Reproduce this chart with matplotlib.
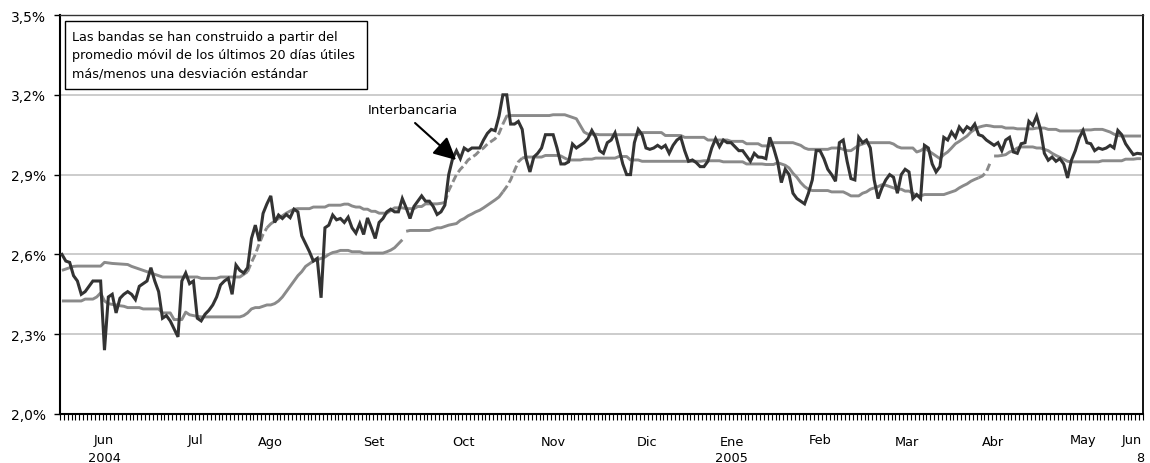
import numpy as np
import matplotlib
matplotlib.use("Agg")
import matplotlib.pyplot as plt
from matplotlib.patches import Rectangle
from matplotlib.patches import ArrowStyle

# ---------------- data (one value per business day) ----------------
interbancaria = [
    2.60, 2.575, 2.57, 2.52, 2.50, 2.45, 2.46, 2.48, 2.50, 2.50,
    2.50, 2.24, 2.44, 2.45, 2.38, 2.435, 2.45, 2.46, 2.45, 2.43,
    2.48, 2.49, 2.50, 2.55, 2.50, 2.46, 2.36, 2.37, 2.35, 2.32,
    2.29, 2.50, 2.53, 2.49, 2.50, 2.36, 2.35, 2.375, 2.39, 2.41,
    2.44, 2.485, 2.50, 2.51, 2.45, 2.56, 2.54, 2.53, 2.55, 2.66,
    2.71, 2.65, 2.754, 2.79, 2.82, 2.72, 2.748, 2.735, 2.75, 2.738,
    2.77, 2.76, 2.67, 2.64, 2.61, 2.575, 2.585, 2.437, 2.70, 2.71,
    2.748, 2.73, 2.735, 2.72, 2.74, 2.70, 2.68, 2.716, 2.675, 2.737,
    2.70, 2.66, 2.72, 2.735, 2.76, 2.77, 2.76, 2.76, 2.81, 2.775,
    2.735, 2.78, 2.80, 2.82, 2.80, 2.80, 2.78, 2.75, 2.76, 2.785,
    2.90, 2.96, 2.99, 2.96, 3.00, 2.99, 3.00, 3.00, 3.00, 3.03,
    3.055, 3.07, 3.065, 3.12, 3.20, 3.20, 3.09, 3.09, 3.10, 3.07,
    2.96, 2.91, 2.966, 2.98, 3.00, 3.05, 3.05, 3.05, 3.00, 2.94,
    2.94, 2.948, 3.015, 3.00, 3.01, 3.02, 3.035, 3.066, 3.04, 2.99,
    2.98, 3.02, 3.03, 3.057, 3.00, 2.94, 2.90, 2.90, 3.02, 3.07,
    3.05, 3.00, 2.995, 3.00, 3.01, 3.00, 3.01, 2.98, 3.01, 3.03,
    3.04, 2.99, 2.95, 2.955, 2.945, 2.93, 2.93, 2.95, 3.00, 3.035,
    3.005, 3.03, 3.02, 3.02, 3.005, 2.99, 2.99, 2.97, 2.95, 2.98,
    2.966, 2.965, 2.96, 3.04, 3.00, 2.95, 2.87, 2.92, 2.90, 2.83,
    2.81, 2.80, 2.79, 2.83, 2.88, 2.99, 2.99, 2.96, 2.92, 2.90,
    2.875, 3.02, 3.03, 2.95, 2.885, 2.88, 3.04, 3.02, 3.03, 3.00,
    2.88, 2.81, 2.85, 2.88, 2.90, 2.89, 2.83, 2.90, 2.92, 2.91,
    2.81, 2.825, 2.81, 3.01, 3.00, 2.94, 2.91, 2.93, 3.04, 3.03,
    3.06, 3.04, 3.079, 3.06, 3.08, 3.07, 3.09, 3.05, 3.045, 3.03,
    3.02, 3.01, 3.02, 2.99, 3.03, 3.04, 2.985, 2.98, 3.016, 3.02,
    3.10, 3.085, 3.12, 3.07, 2.98, 2.954, 2.966, 2.95, 2.96, 2.94,
    2.8875, 2.954, 2.99, 3.0375, 3.066, 3.02, 3.016, 2.99, 3.00, 2.995,
    3.00, 3.01, 3.00, 3.066, 3.05, 3.016, 2.995, 2.975, 2.98, 2.978,
]

banda_superior = [
    2.54, 2.545, 2.55, 2.555, 2.556, 2.556, 2.556, 2.556, 2.556, 2.556,
    2.556, 2.57, 2.568, 2.566, 2.565, 2.564, 2.563, 2.562, 2.555, 2.55,
    2.545, 2.54, 2.535, 2.53, 2.525, 2.52, 2.515, 2.515, 2.515, 2.515,
    2.515, 2.515, 2.515, 2.515, 2.515, 2.515, 2.51, 2.51, 2.51, 2.51,
    2.51, 2.515, 2.515, 2.515, 2.515, 2.515, 2.515, 2.525, 2.535, 2.57,
    2.60, 2.64, 2.675, 2.70, 2.715, 2.725, 2.735, 2.745, 2.755, 2.763,
    2.77, 2.772, 2.772, 2.772, 2.772, 2.778, 2.778, 2.778, 2.778, 2.785,
    2.785, 2.785, 2.785, 2.789, 2.789, 2.782, 2.778, 2.778, 2.77, 2.77,
    2.762, 2.762, 2.755, 2.755, 2.755, 2.765, 2.775, 2.775, 2.775, 2.772,
    2.772, 2.772, 2.78, 2.78, 2.79, 2.79, 2.79, 2.79, 2.792, 2.795,
    2.84, 2.87, 2.90, 2.92, 2.935, 2.955, 2.965, 2.975, 2.99, 3.00,
    3.015, 3.025, 3.035, 3.055, 3.09, 3.12, 3.122, 3.122, 3.122, 3.122,
    3.122, 3.122, 3.122, 3.122, 3.122, 3.122, 3.122, 3.125, 3.125, 3.125,
    3.125, 3.12, 3.115, 3.11, 3.085, 3.06, 3.052, 3.052, 3.052, 3.05,
    3.05, 3.05, 3.05, 3.05, 3.05, 3.05, 3.05, 3.05, 3.05, 3.05,
    3.058, 3.058, 3.058, 3.058, 3.058, 3.058, 3.047, 3.047, 3.047, 3.047,
    3.047, 3.04, 3.04, 3.04, 3.04, 3.04, 3.04, 3.03, 3.03, 3.03,
    3.03, 3.03, 3.03, 3.025, 3.025, 3.025, 3.025, 3.016, 3.016, 3.016,
    3.016, 3.008, 3.008, 3.008, 3.02, 3.02, 3.02, 3.02, 3.02, 3.02,
    3.015, 3.01, 3.00, 2.995, 2.995, 2.995, 2.995, 2.995, 2.995, 3.00,
    3.00, 3.00, 2.995, 2.99, 2.99, 3.00, 3.01, 3.015, 3.02, 3.02,
    3.02, 3.02, 3.02, 3.02, 3.02, 3.015, 3.005, 3.00, 3.00, 3.00,
    3.00, 2.985, 2.99, 3.00, 2.99, 2.98, 2.97, 2.96, 2.975, 2.985,
    3.00, 3.016, 3.025, 3.035, 3.045, 3.06, 3.07, 3.078, 3.082, 3.085,
    3.083, 3.08, 3.08, 3.08, 3.075, 3.075, 3.075, 3.072, 3.072, 3.072,
    3.072, 3.072, 3.075, 3.075, 3.075, 3.07, 3.07, 3.07, 3.064, 3.064,
    3.064, 3.064, 3.064, 3.064, 3.068, 3.068, 3.068, 3.07, 3.07, 3.07,
    3.065, 3.06, 3.052, 3.047, 3.045, 3.045, 3.045, 3.045, 3.045, 3.045,
]

banda_inferior = [
    2.425, 2.425, 2.425, 2.425, 2.425, 2.425, 2.432, 2.432, 2.432, 2.44,
    2.455, 2.425, 2.415, 2.412, 2.41, 2.407, 2.405, 2.40, 2.40, 2.40,
    2.40, 2.395, 2.395, 2.395, 2.395, 2.395, 2.38, 2.38, 2.38, 2.355,
    2.355, 2.355, 2.383, 2.373, 2.37, 2.367, 2.365, 2.365, 2.365, 2.365,
    2.365, 2.365, 2.365, 2.365, 2.365, 2.365, 2.365, 2.37, 2.38, 2.395,
    2.40, 2.40, 2.405, 2.41, 2.41, 2.415, 2.425, 2.44, 2.46, 2.48,
    2.50, 2.52, 2.535, 2.555, 2.565, 2.575, 2.58, 2.585, 2.59, 2.60,
    2.607, 2.61, 2.615, 2.615, 2.615, 2.61, 2.61, 2.61, 2.605, 2.605,
    2.605, 2.605, 2.605, 2.605, 2.61, 2.616, 2.625, 2.64, 2.655, 2.687,
    2.69, 2.69, 2.69, 2.69, 2.69, 2.69, 2.695, 2.70, 2.70, 2.705,
    2.71, 2.713, 2.716, 2.728, 2.735, 2.745, 2.752, 2.76, 2.766, 2.775,
    2.785, 2.795, 2.805, 2.816, 2.835, 2.855, 2.88, 2.915, 2.948, 2.962,
    2.966, 2.966, 2.966, 2.966, 2.966, 2.972, 2.972, 2.972, 2.972, 2.97,
    2.962, 2.955, 2.955, 2.955, 2.955, 2.958, 2.958, 2.958, 2.962, 2.962,
    2.962, 2.962, 2.962, 2.962, 2.968, 2.968, 2.968, 2.955, 2.955, 2.955,
    2.95, 2.95, 2.95, 2.95, 2.95, 2.95, 2.95, 2.95, 2.95, 2.95,
    2.95, 2.95, 2.95, 2.95, 2.95, 2.95, 2.952, 2.952, 2.952, 2.952,
    2.952, 2.948, 2.948, 2.948, 2.948, 2.948, 2.948, 2.94, 2.94, 2.94,
    2.94, 2.94, 2.938, 2.938, 2.938, 2.945, 2.94, 2.935, 2.925, 2.905,
    2.89, 2.87, 2.855, 2.845, 2.84, 2.84, 2.84, 2.84, 2.84, 2.835,
    2.835, 2.835, 2.835, 2.828, 2.82, 2.82, 2.82, 2.83, 2.835, 2.845,
    2.85, 2.855, 2.862, 2.86, 2.855, 2.85, 2.845, 2.845, 2.838, 2.838,
    2.83, 2.82, 2.82, 2.825, 2.825, 2.825, 2.825, 2.825, 2.825, 2.83,
    2.835, 2.84, 2.85, 2.858, 2.865, 2.875, 2.882, 2.888, 2.895, 2.91,
    2.945, 2.97, 2.97, 2.972, 2.975, 2.985, 2.99, 3.00, 3.004, 3.004,
    3.004, 3.004, 3.00, 3.00, 2.995, 2.99, 2.98, 2.972, 2.965, 2.958,
    2.95, 2.948, 2.948, 2.948, 2.948, 2.948, 2.948, 2.948, 2.948, 2.952,
    2.952, 2.952, 2.952, 2.952, 2.952, 2.958, 2.958, 2.958, 2.96, 2.96,
]

y_ticks = [2.0, 2.3, 2.6, 2.9, 3.2, 3.5]
y_tick_labels = ["2,0%", "2,3%", "2,6%", "2,9%", "3,2%", "3,5%"]

month_labels = ["Jun", "Jul", "Ago", "Set", "Oct", "Nov", "Dic", "Ene",
                "Feb", "Mar", "Abr", "May", "Jun"]
month_pos = [10.9, 34.5, 54.0, 80.7, 103.9, 127.0, 151.3, 173.2,
             196.1, 218.4, 240.8, 264.1, 276.6]
year_labels = ["2004", "2005", "8"]
year_pos = [10.9, 173.2, 278.7]

note_text = ("Las bandas se han construido a partir del\n"
             "promedio móvil de los últimos 20 días útiles\n"
             "más/menos una desviación estándar")

# ---------------- style ----------------
DARK = "#333333"
BAND = "#8a8a8a"
GRID = "#c8c8c8"
upper_dashed = [(48, 53), (99, 114)]
lower_dashed = [(114, 119), (237, 240)]
lower_breaks = [88, 240]

plt.rcParams["font.family"] = ["DejaVu Sans"]

fig = plt.figure(figsize=(11.5, 4.64), dpi=100)
ax = fig.add_axes([60 / 1150, 49 / 464, 1083 / 1150, 399 / 464])

n = len(interbancaria)
x = np.arange(n, dtype=float)


def draw_band(vals, dashed, breaks):
    v = np.array(vals, dtype=float)
    solid = v.copy()
    for a, b in dashed:
        solid[a + 1:b] = np.nan
    xs, ys = list(x), list(solid)
    for br in sorted(breaks, reverse=True):
        xs.insert(br + 1, br + 0.5)
        ys.insert(br + 1, np.nan)
    ax.plot(xs, ys, color=BAND, lw=2.1, solid_capstyle="butt", zorder=2)
    for a, b in dashed:
        xd = list(x[a:b + 1])
        yd = list(v[a:b + 1])
        for br in breaks:
            if a <= br < b:
                idx = br - a + 1
                xd.insert(idx, br + 0.5)
                yd.insert(idx, np.nan)
        ax.plot(xd, yd, color=BAND, lw=2.1, linestyle=(0, (2.6, 1.2)), zorder=2)


draw_band(banda_superior, upper_dashed, [])
draw_band(banda_inferior, lower_dashed, lower_breaks)
ax.plot(x, interbancaria, color=DARK, lw=2.2, zorder=3, solid_joinstyle="miter")

ax.set_xlim(-0.5, n - 0.5)
ax.set_ylim(2.0, 3.5)
ax.set_yticks(y_ticks)
ax.set_yticklabels(y_tick_labels, fontsize=10)
ax.set_xticks(np.arange(n + 1) - 0.5)
ax.set_xticklabels([])
ax.tick_params(axis="x", direction="out", length=4, width=0.8, color="black")
ax.tick_params(axis="y", direction="out", length=4, width=1, pad=6, color="black")

ax.yaxis.grid(True, color=GRID, lw=1.3, zorder=0)
ax.set_axisbelow(True)
for side in ["left", "bottom"]:
    ax.spines[side].set_linewidth(1.5)
    ax.spines[side].set_color("black")
ax.spines["top"].set_linewidth(1.0)
ax.spines["top"].set_color("#333333")
ax.spines["right"].set_linewidth(1.3)
ax.spines["right"].set_color("black")

# month labels
low = {"Ago", "Set", "Oct", "Nov", "Dic", "Ene", "Mar", "Abr"}
for lab, pos in zip(month_labels, month_pos):
    off = -20.0 if lab in low else -18.5
    ax.annotate(lab, xy=(pos, 0), xycoords=("data", "axes fraction"),
                xytext=(0, off), textcoords="offset points",
                ha="center", va="center", fontsize=9.3)
for lab, pos, off in zip(year_labels, year_pos, [-31.0, -31.5, -31.0]):
    ax.annotate(lab, xy=(pos, 0), xycoords=("data", "axes fraction"),
                xytext=(0, off), textcoords="offset points",
                ha="center", va="center", fontsize=9.3, annotation_clip=False)

# note box
ax.add_patch(Rectangle((5 / 1083, 325 / 399), 302 / 1083, 68 / 399,
                       transform=ax.transAxes, facecolor="white",
                       edgecolor="black", lw=1.0, zorder=5))
ax.text(12 / 1083, 359 / 399, note_text, transform=ax.transAxes,
        ha="left", va="center", fontsize=9.2, linespacing=1.5, zorder=6)

# Interbancaria label with arrow
ax.text(90.8, 3.143, "Interbancaria", ha="center", va="center", fontsize=9.6, zorder=6)
ax.annotate("", xy=(101.9, 2.955), xytext=(91.3, 3.094),
            arrowprops=dict(arrowstyle=ArrowStyle("-|>", head_length=0.8, head_width=0.4),
                            mutation_scale=17, color="black", lw=1.5,
                            shrinkA=0, shrinkB=0), zorder=6)

fig.savefig("out.png", dpi=100)
